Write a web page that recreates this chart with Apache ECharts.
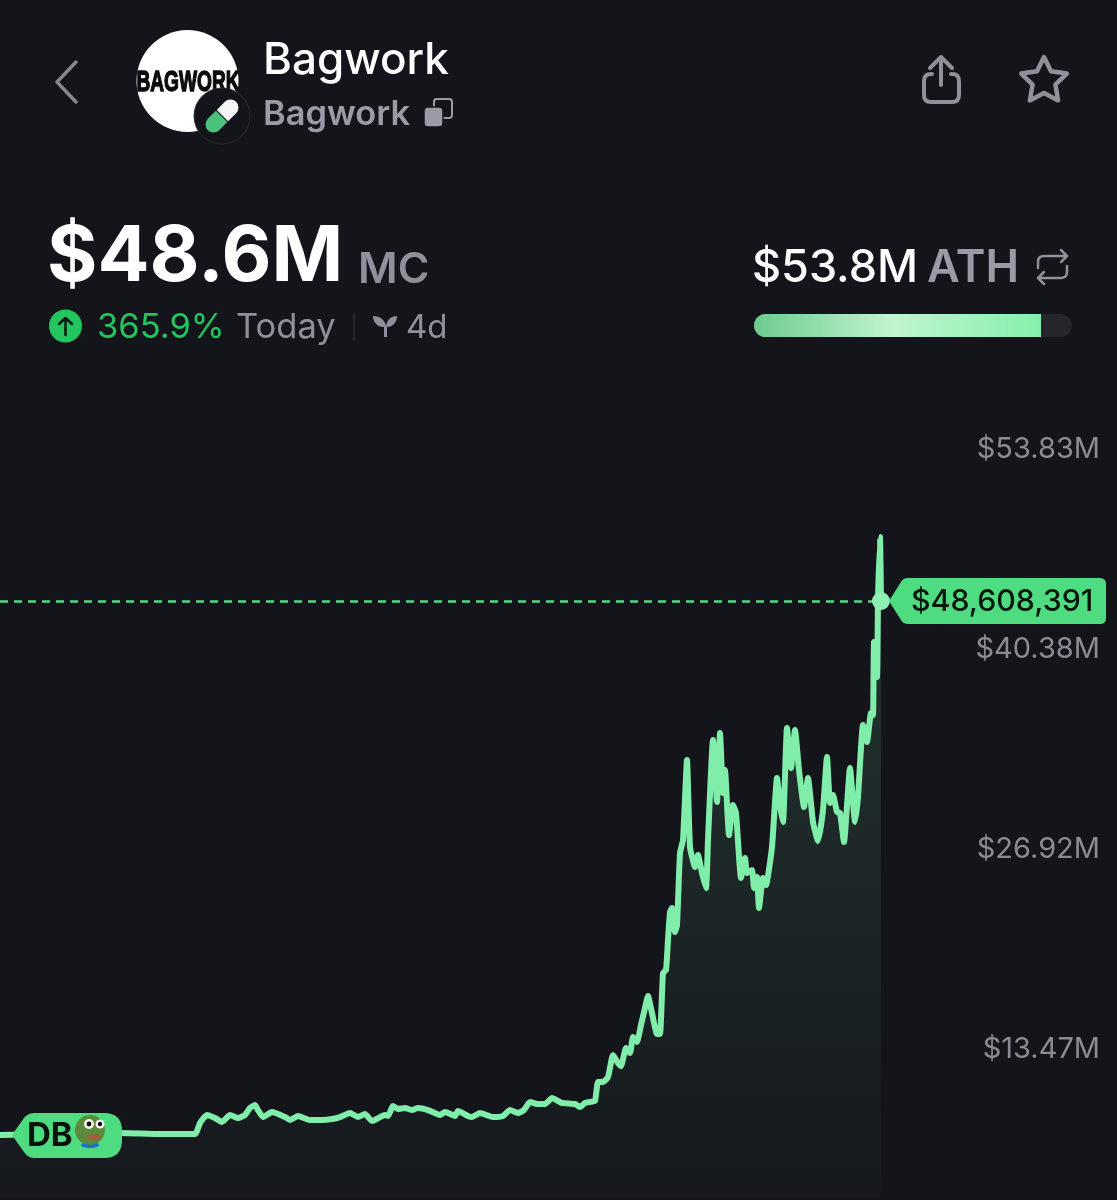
<!DOCTYPE html>
<html>
<head>
<meta charset="utf-8">
<title>Bagwork</title>
<script src="https://cdn.jsdelivr.net/npm/echarts@6/dist/echarts.min.js"></script>
<style>
  html, body { margin: 0; padding: 0; background: #14151b; }
  #chart { width: 1117px; height: 1200px; }
</style>
</head>
<body>
<div id="chart"></div>
<script>
// candle number along the chart, and market cap in $M
const candles = [0,121,160,195,200,207,215,222,230,238,245,250,255,258,263,272,285,290,298,310,322,332,340,350,358,365,372,385,388,393,398,405,412,418,428,440,445,455,458,468,472,480,493,503,510,518,524,530,537,545,552,562,575,580,585,590,595,598,603,608,613,618,621,626,630,633,637,641,645,648,652,657,660,663,666,668,670,672,675,677,680,683,687,690,695,698,702,706,708,713,717,720,723,725,729,733,736,741,745,747,752,754,757,759,763,766,772,777,780,783,787,791,795,799,804,808,813,818,823,827,830,833,837,840,844,850,855,858,863,867,871,873,874,877,878,880,881];
const mcap = [5.03,5.20,5.11,5.11,6.01,6.67,6.42,6.10,6.67,6.42,6.67,7.24,7.48,7.07,6.50,6.91,6.50,6.26,6.59,6.26,6.26,6.34,6.50,6.83,6.50,6.75,6.18,6.67,6.59,7.40,7.16,7.24,7.07,7.24,7.07,6.67,6.91,6.59,6.99,6.59,6.50,6.83,6.50,6.59,7.07,6.83,7.07,7.73,7.56,7.56,8.05,7.65,7.56,7.32,7.65,7.73,7.81,9.36,9.36,9.77,11.56,10.91,10.67,12.13,11.73,13.03,12.62,14.01,15.40,16.38,14.99,13.28,13.28,18.25,18.50,20.95,23.23,23.56,21.60,22.17,28.05,29.11,35.64,28.54,26.90,27.88,26.41,25.19,29.11,37.27,32.21,37.84,32.94,34.82,29.51,31.96,31.31,26.01,27.64,26.41,26.66,25.19,26.09,23.56,26.01,25.43,28.54,34.17,31.96,30.58,38.25,34.98,38.08,34.82,31.80,34.17,30.58,29.03,31.56,35.88,32.13,32.78,31.39,31.31,28.94,34.98,30.58,32.62,38.49,37.10,39.47,39.31,45.26,42.41,48.69,53.83,48.61];
const currentMcap = 48.608391;
const currentLabel = '$48,608,391';
const axisTicks = [13.47, 26.92, 40.38, 53.83];

const FONT = 'Inter, "Noto Sans", sans-serif';
const GREY = '#8f909b';
const LINE = '#80eeaa';
const TAG = '#4fdc80';

// the graphic component has no plain path type, so each icon gets its own shape
let shapeCount = 0;
function pathType(d) {
  const name = 'icon' + (shapeCount++);
  echarts.graphic.registerShape(name, echarts.graphic.extendPath(d));
  return name;
}
function label(text, x, y, size, weight, fill, align) {
  return { type: 'text', x: x, y: y, z: 20, silent: true, style: {
    text: text, fill: fill, align: align || 'left', verticalAlign: 'middle',
    font: weight + ' ' + size + 'px ' + FONT
  } };
}
function stroke(d, width, color) {
  return { type: pathType(d), z: 20, silent: true, style: {
    fill: 'none', stroke: color || GREY, lineWidth: width, lineCap: 'round', lineJoin: 'round'
  } };
}
function solid(d, color) {
  return { type: pathType(d), z: 20, silent: true, style: { fill: color } };
}

const header = [
  stroke('M76 62 L57 82 L76 102', 3.5, '#85868d'),
  { type: 'circle', z: 20, silent: true, shape: { cx: 187.5, cy: 81, r: 51 }, style: { fill: '#fff' } },
  { type: 'text', x: 188, y: 83, scaleX: 0.66, z: 20, silent: true, style: {
    text: 'BAGWORK', fill: '#0b0b0b', align: 'center', verticalAlign: 'middle',
    font: 'bold 29px "Liberation Sans", sans-serif',
    stroke: '#0b0b0b', lineWidth: 1.4
  } },
  { type: 'circle', z: 21, silent: true, shape: { cx: 222, cy: 116, r: 28 }, style: { fill: '#14151b', stroke: '#2a2b31', lineWidth: 1 } },
  { type: 'rect', z: 22, silent: true, x: 222, y: 116, rotation: Math.PI / 4, shape: { x: -20, y: -8, width: 19.4, height: 16, r: [8, 0, 0, 8] }, style: { fill: '#4cc17c' } },
  { type: 'rect', z: 22, silent: true, x: 222, y: 116, rotation: Math.PI / 4, shape: { x: 0.6, y: -8, width: 19.4, height: 16, r: [0, 8, 8, 0] }, style: { fill: '#f4f5f4' } },
  label('Bagwork', 263, 61, 44, 500, '#fff'),
  label('Bagwork', 263, 115, 34.4, 600, '#9a9ba6'),
  { type: 'rect', z: 20, silent: true, shape: { x: 434, y: 99, width: 18, height: 19, r: 3 }, style: { fill: 'none', stroke: '#9a9ba6', lineWidth: 2 } },
  { type: 'rect', z: 21, silent: true, shape: { x: 424, y: 107, width: 19, height: 20, r: 4 }, style: { fill: '#9a9ba6', stroke: '#14151b', lineWidth: 1.5 } },
  stroke('M941 85 V57 M930 68 L941 57 L952 68', 4, GREY),
  stroke('M932 74 H931 Q924 74 924 81 V95 Q924 102 931 102 H952 Q959 102 959 95 V81 Q959 74 952 74 H951', 4, GREY),
  stroke('M1044 57 L1051 71.3 L1066.8 73.6 L1055.4 84.7 L1058.1 100.4 L1044 93 L1029.9 100.4 L1032.6 84.7 L1021.2 73.6 L1037 71.3 Z', 4.5, GREY),

  label('$48.6M', 47, 258, 77, 700, '#fff'),
  label('MC', 358, 270, 43, 600, GREY),
  { type: 'circle', z: 20, silent: true, shape: { cx: 65.5, cy: 326, r: 16.5 }, style: { fill: '#22c55e' } },
  stroke('M65.5 335 V318 M59 324 L65.5 318 L72 324', 2.5, '#07160d'),
  label('365.9%', 97, 328, 34.5, 400, '#22c55e'),
  label('Today', 236, 328, 34.5, 400, GREY),
  stroke('M354 313 V340', 1.5, '#2c2d33'),
  solid('M384 337 V327 C377 327 373 322 373 316 C380 316 385 320 386 326 C387 320 391 316 397 316 C397 322 393 327 387 327 V337 Z', GREY),
  label('4d', 406, 328, 33, 400, GREY),

  label('$53.8M', 752, 268, 45, 500, '#fff'),
  label('ATH', 927, 268, 45, 600, '#9a9ba6'),
  stroke('M1038 268 V262 Q1038 256 1044 256 H1066 M1061 250 L1067 256 L1061 262', 2.5, GREY),
  stroke('M1067 266 V272 Q1067 278 1061 278 H1039 M1044 272 L1038 278 L1044 284', 2.5, GREY),
  { type: 'rect', z: 20, silent: true, shape: { x: 754, y: 314, width: 318, height: 23, r: 11.5 }, style: { fill: '#25262b' } },
  { type: 'rect', z: 21, silent: true, shape: { x: 754, y: 314, width: 287, height: 23, r: [11.5, 0, 0, 11.5] }, style: {
    fill: new echarts.graphic.LinearGradient(0, 0, 1, 0, [
      { offset: 0, color: '#6ccb8e' },
      { offset: 0.48, color: '#c0f4d0' },
      { offset: 1, color: '#86efac' }
    ])
  } }
];

const tags = [
  solid('M889 601 L901 582 Q903 578 908 578 H1100 Q1106 578 1106 584 V618 Q1106 624 1100 624 H908 Q903 624 901 620 Z', TAG),
  label(currentLabel, 911, 602, 30.3, 500, '#04170c'),
  solid('M12 1135 L24 1118 Q28 1113 35 1113 H104 Q122 1113 122 1131 V1140 Q122 1158 104 1158 H35 Q28 1158 24 1152 Z', TAG),
  label('DB', 27, 1136, 33, 700, '#08120c'),
  // little frog avatar in the tag
  { type: 'ellipse', z: 21, silent: true, shape: { cx: 90, cy: 1145, rx: 9, ry: 3 }, style: { fill: '#1e6fd8' } },
  { type: 'circle', z: 22, silent: true, shape: { cx: 90, cy: 1130, r: 15 }, style: { fill: '#5b8a3c' } },
  { type: 'circle', z: 23, silent: true, shape: { cx: 89, cy: 1124, r: 5 }, style: { fill: '#f4f4f0' } },
  { type: 'circle', z: 23, silent: true, shape: { cx: 100, cy: 1124, r: 4.5 }, style: { fill: '#f4f4f0' } },
  { type: 'circle', z: 24, silent: true, shape: { cx: 89, cy: 1124, r: 2.4 }, style: { fill: '#111' } },
  { type: 'circle', z: 24, silent: true, shape: { cx: 100, cy: 1124, r: 2.2 }, style: { fill: '#111' } },
  { type: 'ellipse', z: 23, silent: true, shape: { cx: 94, cy: 1137, rx: 7, ry: 2.5 }, style: { fill: '#a85a3a' } }
];

const chart = echarts.init(document.getElementById('chart'));
chart.setOption({
  backgroundColor: '#14151b',
  animation: false,
  textStyle: { fontFamily: FONT },
  grid: { left: 0, top: 437, width: 881, height: 763 },
  xAxis: { type: 'value', min: 0, max: 881, show: false },
  yAxis: [
    { type: 'value', min: -0.27, max: 61.99, show: false },
    {
      // the app spaces these labels evenly, they don't line up with the price scale
      type: 'value', min: 3.31, max: 54.64, position: 'right', offset: 219,
      axisLine: { show: false }, axisTick: { show: false }, splitLine: { show: false },
      axisLabel: {
        inside: true, margin: 0, fontSize: 29, color: '#8b8c93', fontFamily: FONT,
        customValues: axisTicks,
        formatter: v => '$' + v.toFixed(2) + 'M'
      }
    }
  ],
  series: [{
    type: 'line',
    data: candles.map((c, i) => [c, mcap[i]]),
    showSymbol: false,
    clip: false,
    smooth: 0.15,
    lineStyle: { color: LINE, width: 6, join: 'round', cap: 'round' },
    areaStyle: {
      color: new echarts.graphic.LinearGradient(0, 0, 0, 1, [
        { offset: 0, color: 'rgba(125,240,170,0.22)' },
        { offset: 1, color: 'rgba(125,240,170,0.02)' }
      ])
    },
    markLine: {
      silent: true, symbol: 'none', animation: false,
      label: { show: false },
      lineStyle: { color: TAG, width: 2.5, type: [8, 6] },
      data: [{ yAxis: currentMcap }]
    },
    markPoint: {
      silent: true, symbol: 'circle', symbolSize: 18, animation: false,
      label: { show: false },
      itemStyle: { color: '#8df0b3' },
      data: [{ coord: [881, currentMcap] }]
    }
  }],
  graphic: { elements: header.concat(tags) }
});
</script>
</body>
</html>
